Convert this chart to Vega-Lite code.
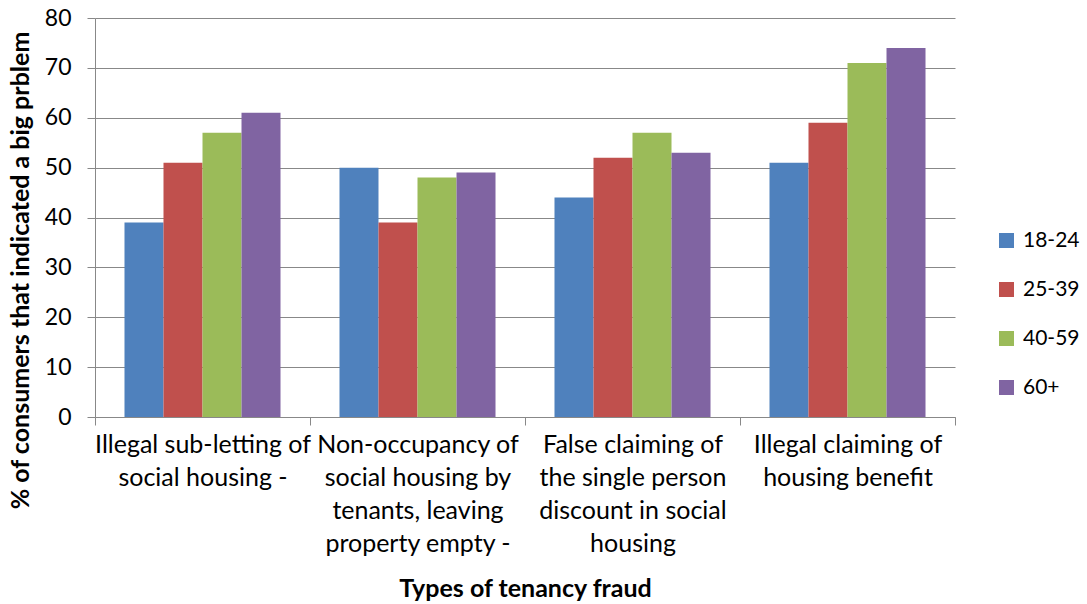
{
  "$schema": "https://vega.github.io/schema/vega-lite/v6.json",
  "autosize": {"type": "none"},
  "width": 860,
  "height": 399,
  "padding": {"left": 95, "top": 18, "right": 132, "bottom": 187},
  "background": "white",
  "config": {
    "font": "Lato",
    "view": {"stroke": null}
  },
  "data": {
    "values": [
      {"type": "Illegal sub-letting of|social housing -", "age": "18-24", "pct": 39},
      {"type": "Illegal sub-letting of|social housing -", "age": "25-39", "pct": 51},
      {"type": "Illegal sub-letting of|social housing -", "age": "40-59", "pct": 57},
      {"type": "Illegal sub-letting of|social housing -", "age": "60+", "pct": 61},
      {"type": "Non-occupancy of|social housing by|tenants, leaving|property empty -", "age": "18-24", "pct": 50},
      {"type": "Non-occupancy of|social housing by|tenants, leaving|property empty -", "age": "25-39", "pct": 39},
      {"type": "Non-occupancy of|social housing by|tenants, leaving|property empty -", "age": "40-59", "pct": 48},
      {"type": "Non-occupancy of|social housing by|tenants, leaving|property empty -", "age": "60+", "pct": 49},
      {"type": "False claiming of|the single person|discount in social|housing", "age": "18-24", "pct": 44},
      {"type": "False claiming of|the single person|discount in social|housing", "age": "25-39", "pct": 52},
      {"type": "False claiming of|the single person|discount in social|housing", "age": "40-59", "pct": 57},
      {"type": "False claiming of|the single person|discount in social|housing", "age": "60+", "pct": 53},
      {"type": "Illegal claiming of|housing benefit", "age": "18-24", "pct": 51},
      {"type": "Illegal claiming of|housing benefit", "age": "25-39", "pct": 59},
      {"type": "Illegal claiming of|housing benefit", "age": "40-59", "pct": 71},
      {"type": "Illegal claiming of|housing benefit", "age": "60+", "pct": 74}
    ]
  },
  "mark": {"type": "bar"},
  "encoding": {
    "x": {
      "field": "type",
      "type": "nominal",
      "sort": null,
      "scale": {"paddingInner": 0, "paddingOuter": 0},
      "axis": {
        "title": "Types of tenancy fraud",
        "titleFontSize": 25,
        "titleFontWeight": "bold",
        "titleColor": "black",
        "titleY": 171,
        "titleBaseline": "middle",
        "labelExpr": "isValid(datum.value) ? split(datum.value, '|') : ''",
        "labelAngle": 0,
        "labelFontSize": 25,
        "labelLineHeight": 33,
        "labelColor": "black",
        "labelLimit": 300,
        "labelPadding": 7,
        "labelBaseline": "top",
        "tickBand": "extent",
        "tickSize": 8,
        "tickColor": "#888888",
        "domainColor": "#888888",
        "grid": false
      }
    },
    "xOffset": {
      "field": "age",
      "type": "nominal",
      "scale": {"paddingInner": 0, "paddingOuter": 0.756}
    },
    "y": {
      "field": "pct",
      "type": "quantitative",
      "scale": {"domain": [0, 80], "nice": false},
      "axis": {
        "title": "%  of consumers that indicated a big prblem",
        "titleFontSize": 25,
        "titleFontWeight": "bold",
        "titleColor": "black",
        "titleX": -75,
        "titleY": 252,
        "titleBaseline": "middle",
        "titleAngle": -90,
        "values": [0, 10, 20, 30, 40, 50, 60, 70, 80],
        "labelFontSize": 23,
        "labelColor": "black",
        "labelPadding": 16,
        "tickSize": 8,
        "tickColor": "#888888",
        "domainColor": "#888888",
        "gridColor": "#888888",
        "grid": true
      }
    },
    "color": {
      "field": "age",
      "type": "nominal",
      "scale": {"domain": ["18-24", "25-39", "40-59", "60+"], "range": ["#4F81BD", "#C0504D", "#9BBB59", "#8064A2"]},
      "legend": {
        "title": null,
        "orient": "none",
        "legendX": 901,
        "legendY": 212,
        "padding": 0,
        "symbolType": "square",
        "symbolSize": 225,
        "symbolStrokeWidth": 0,
        "labelFontSize": 21,
        "labelColor": "black",
        "labelOffset": 6,
        "rowPadding": 27
      }
    }
  }
}
